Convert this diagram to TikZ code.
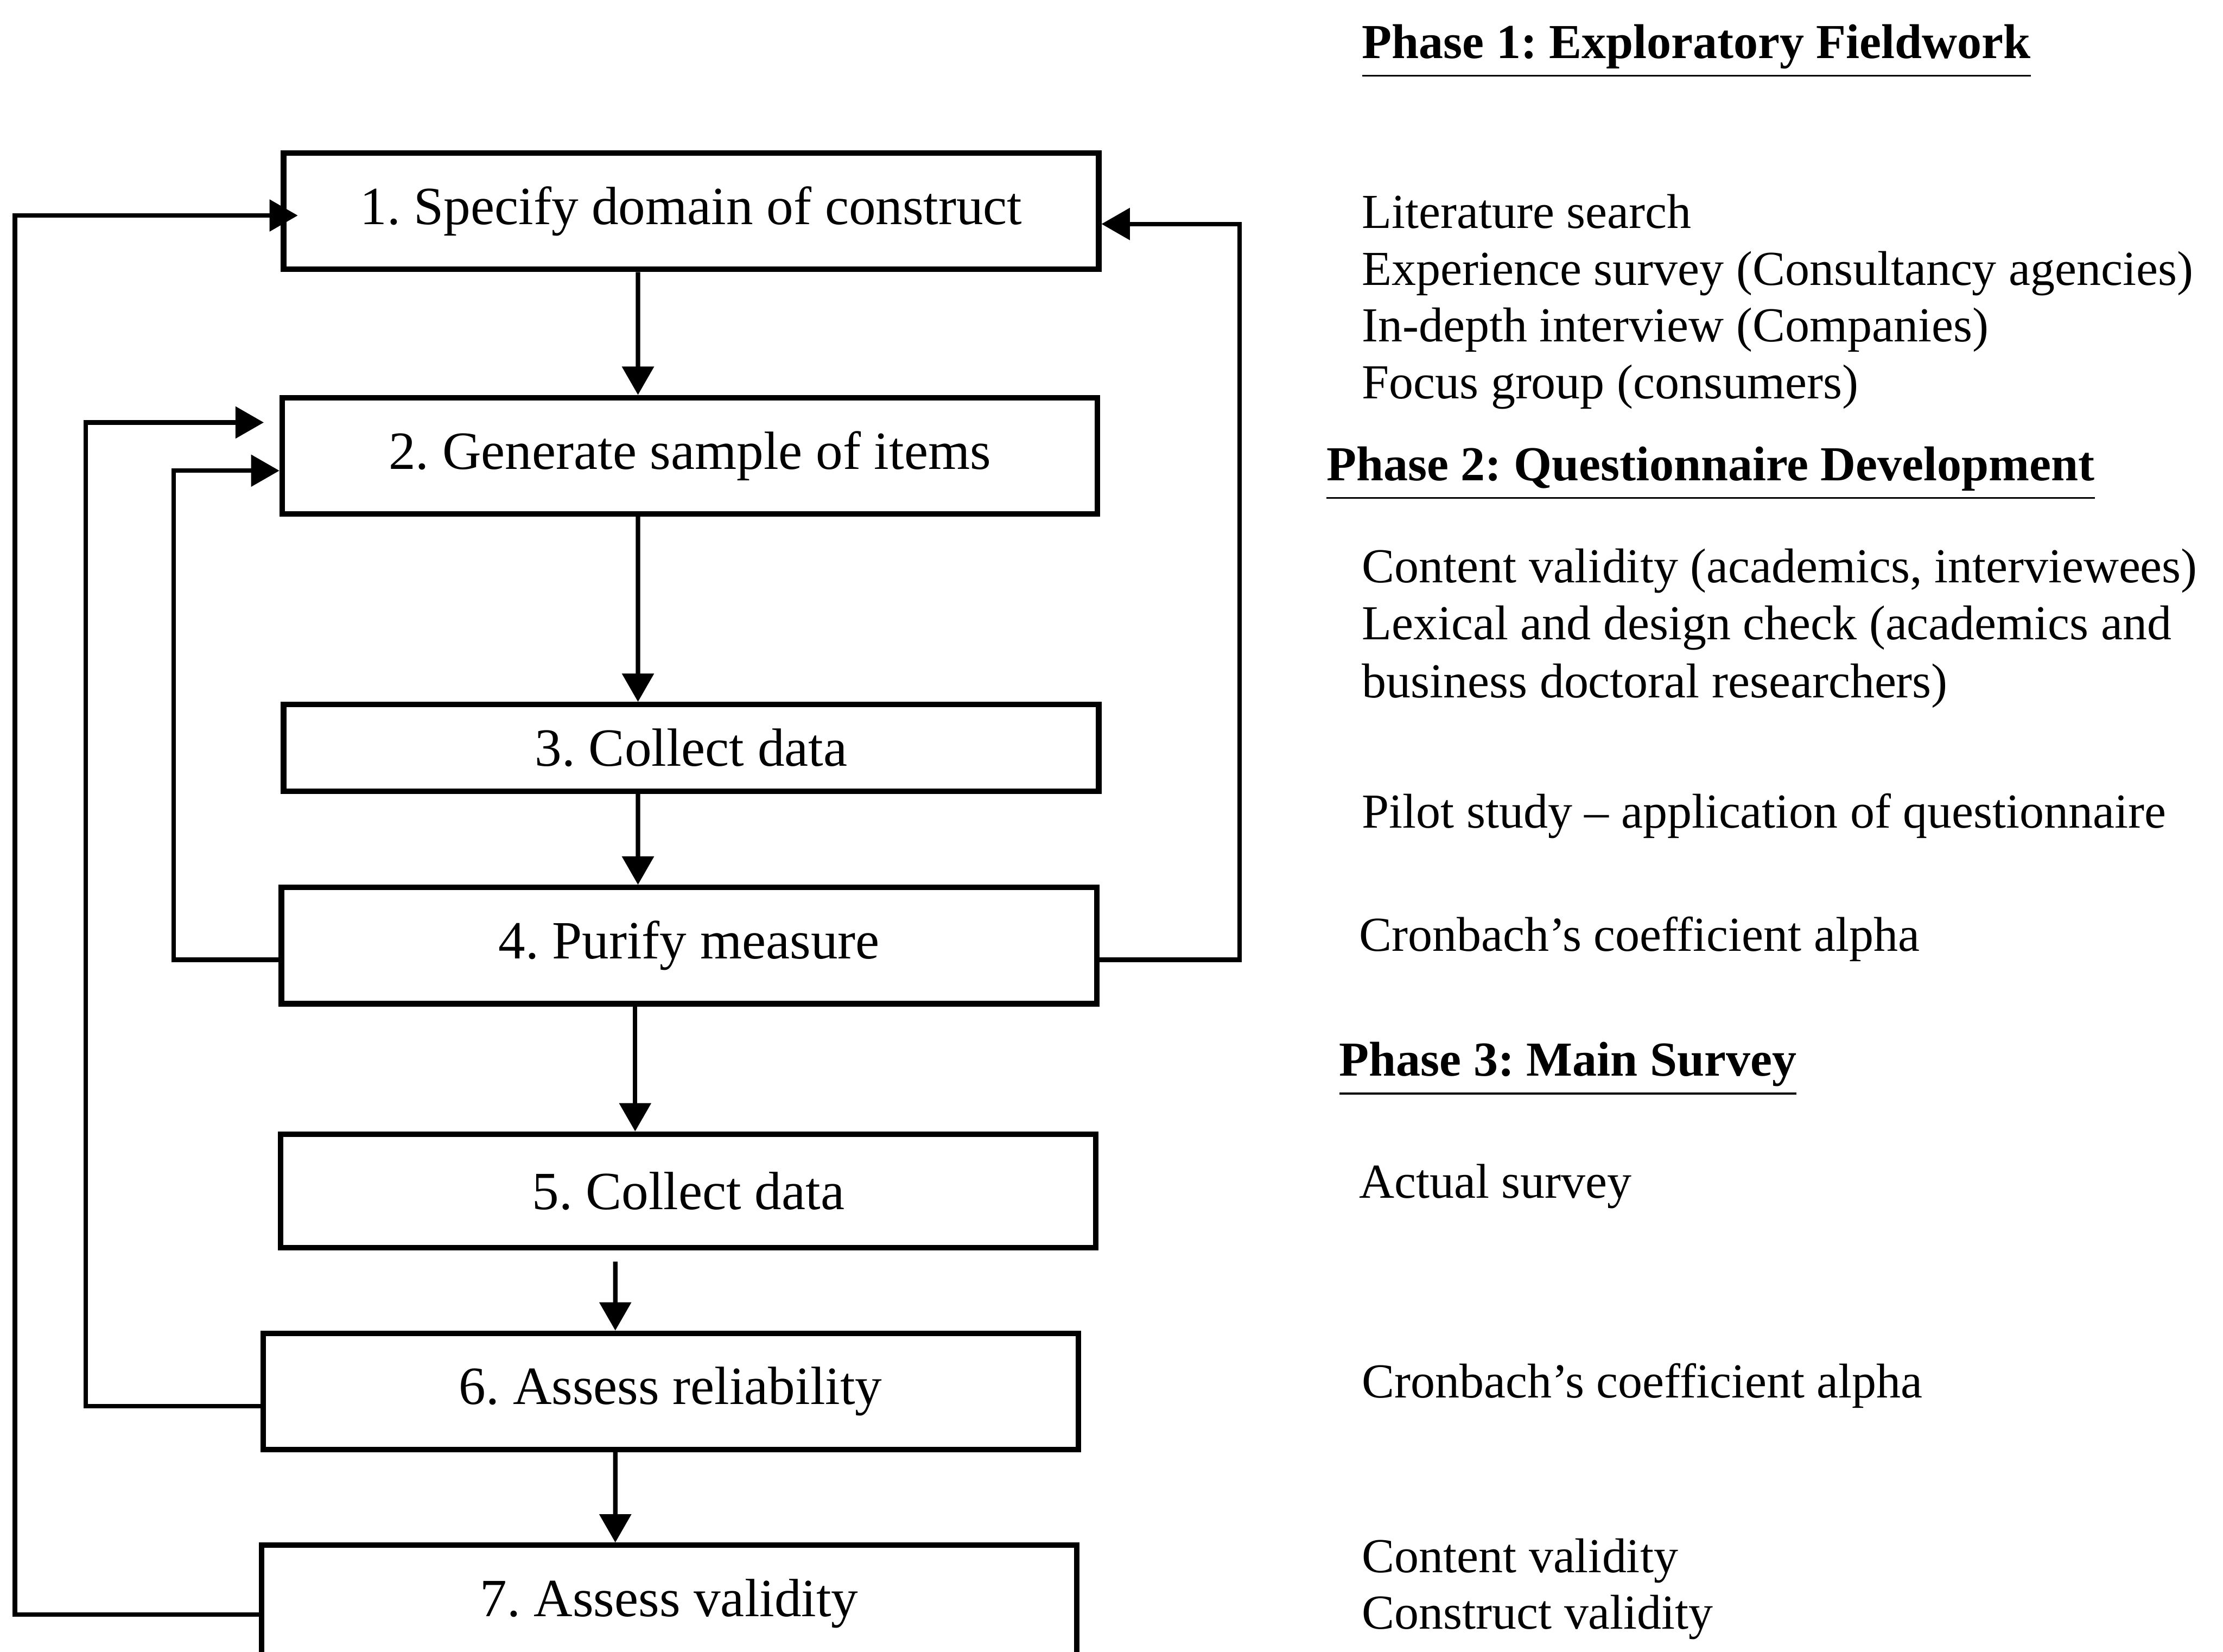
\documentclass[tikz,border=0pt]{standalone}
\usepackage{fontspec}
\setmainfont{Liberation Serif}
\usetikzlibrary{arrows.meta}
\frenchspacing

\begin{document}
\begin{tikzpicture}[x=0.1mm, y=-0.1mm,
    stagebox/.style={draw, line width=1.1pt, minimum width=57.5mm,
                     minimum height=8.2mm, inner sep=0pt,
                     font=\fontsize{10.8}{13}\selectfont},
    flow/.style={-{Triangle[length=2mm,width=2.2mm]}, line width=0.9pt},
    note/.style={anchor=base west, inner sep=0pt,
                 font=\fontsize{9.8}{11.4}\selectfont},
    phase/.style={note, font=\fontsize{9.8}{11.4}\selectfont\bfseries}]
  \useasboundingbox (0,0) rectangle (1568,1165);

  % Stages
  \node[stagebox] (s1) at (487.5,149) {1. Specify domain of construct};
  \node[stagebox] (s2) at (486.5,321.5) {2. Generate sample of items};
  \node[stagebox, minimum height=6.1mm] (s3) at (487.5,527.5) {3. Collect data};
  \node[stagebox] (s4) at (486,667) {4. Purify measure};
  \node[stagebox, minimum height=8mm] (s5) at (485.5,840) {5. Collect data};
  \node[stagebox] (s6) at (473,981.5) {6. Assess reliability};
  \node[stagebox] (s7) at (472,1131) {7. Assess validity};

  % Down the chain
  \draw[flow] ([xshift=-3.75mm]s1.south) -- ([xshift=-3.65mm]s2.north);
  \draw[flow] ([xshift=-3.65mm]s2.south) -- ([xshift=-3.75mm]s3.north);
  \draw[flow] ([xshift=-3.75mm]s3.south) -- ([xshift=-3.6mm]s4.north);
  \draw[flow] ([xshift=-3.8mm]s4.south) -- ([xshift=-3.75mm]s5.north);
  \draw[flow] ([xshift=-5.15mm,yshift=-0.8mm]s5.south) -- ([xshift=-3.9mm]s6.north);
  \draw[flow] ([xshift=-3.9mm]s6.south) -- ([xshift=-3.8mm]s7.north);

  % Feedback loops
  \draw[flow] ([yshift=-1mm]s4.east) -- ++(99,0) |- ([yshift=-0.9mm]s1.east);
  \draw[flow] ([yshift=-1mm]s4.west) -- ++(-74,0) |- ([yshift=-1.05mm]s2.west);
  \draw[flow] ([yshift=-1.05mm]s6.west) -- ++(-123,0)
              |- ([xshift=-1.1mm,yshift=2.35mm]s2.west);
  \draw[flow] ([yshift=-0.8mm]s7.west) -- ++(-172,0)
              |- ([xshift=1.2mm,yshift=-0.3mm]s1.west);

  % Phase 1
  \node[phase] (p1) at (960,41) {\underline{Phase 1: Exploratory Fieldwork}};
  \node[note] (p1a) at (960,161) {Literature search};
  \node[note] (p1b) at (960,201) {Experience survey (Consultancy agencies)};
  \node[note] (p1c) at (960,241) {In-depth interview (Companies)};
  \node[note] (p1d) at (960,281) {Focus group (consumers)};
  % Phase 2
  \node[phase] (p2) at (935,339) {\underline{Phase 2: Questionnaire Development}};
  \node[note] (p2a) at (960,411) {Content validity (academics, interviewees)};
  \node[note] (p2b) at (960,451) {Lexical and design check (academics and};
  \node[note] (p2c) at (960,492) {business doctoral researchers)};
  \node[note] (p2d) at (960,584) {Pilot study -- application of questionnaire};
  \node[note] (p2e) at (958,671) {Cronbach’s coefficient alpha};
  % Phase 3
  \node[phase] (p3) at (944,759) {\underline{Phase 3: Main Survey}};
  \node[note] (p3a) at (958,845) {Actual survey};
  \node[note] (p3b) at (960,986) {Cronbach’s coefficient alpha};
  \node[note] (p3c) at (960,1109) {Content validity};
  \node[note] (p3d) at (960,1149) {Construct validity};
\end{tikzpicture}
\end{document}
